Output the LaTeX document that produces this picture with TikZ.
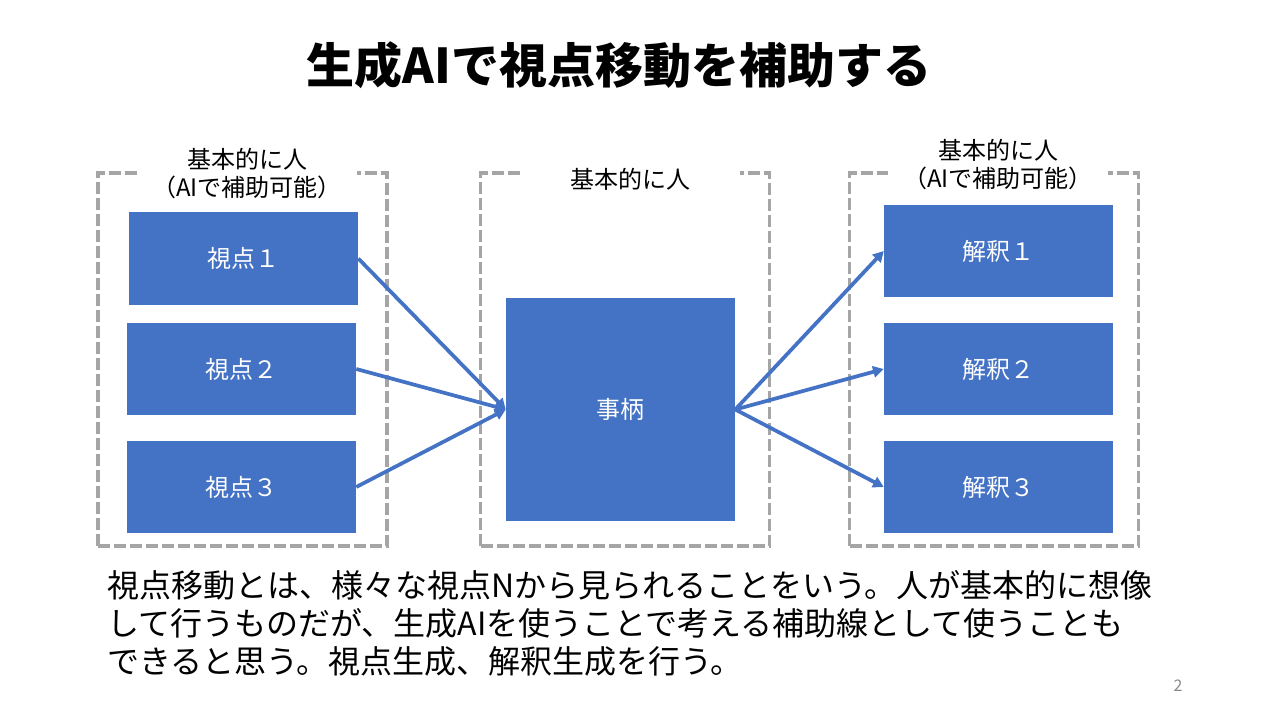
\documentclass[tikz,border=0pt]{standalone}
\usepackage{fontspec}
\setmainfont{Noto Sans CJK JP}
\usetikzlibrary{arrows.meta}
\definecolor{boxblue}{HTML}{4472C4}
\definecolor{dashgray}{HTML}{A5A5A5}
\definecolor{pagegray}{HTML}{898989}
\begin{document}
\begin{tikzpicture}[x=0.75pt,y=-0.75pt,
  bluebox/.style={fill=boxblue, draw=none, text=white, font=\fontsize{18}{22}\selectfont, minimum width=171.75pt, minimum height=69pt, inner sep=0pt},
  dashbox/.style={draw=dashgray, line width=2.8pt, dash pattern=on 9pt off 3pt, minimum width=216.75pt, minimum height=279.75pt, inner sep=0pt},
  grouplabel/.style={fill=white, font=\fontsize{18}{21}\selectfont, align=center, minimum width=165pt, inner sep=1pt},
  link/.style={draw=boxblue, line width=2.8pt, -{Triangle[length=8pt,width=8.5pt]}}
]
\useasboundingbox (0,0) rectangle (1280,720);

\node[font=\fontsize{36}{40}\selectfont\bfseries] (title) at (619,65) {生成AIで視点移動を補助する};

\node[dashbox] (d1) at (242.5,359.5) {};
\node[dashbox] (d2) at (625,359.5) {};
\node[dashbox] (d3) at (994,359.5) {};

\node[grouplabel] (l1) at (247,174) {基本的に人\\（AIで補助可能）};
\node[grouplabel] (l2) at (630,179) {基本的に人};
\node[grouplabel] (l3) at (998,165) {基本的に人\\（AIで補助可能）};

\node[bluebox] (v1) at (243.5,258.5) {視点１};
\node[bluebox] (v2) at (241.5,369) {視点２};
\node[bluebox] (v3) at (241.5,487) {視点３};
\node[bluebox, minimum height=167.25pt] (c) at (620.5,409.5) {事柄};
\node[bluebox] (r1) at (998.5,251) {解釈１};
\node[bluebox] (r2) at (998.5,369) {解釈２};
\node[bluebox] (r3) at (998.5,487) {解釈３};

\draw[link] (v1.east) -- (c.west);
\draw[link] (v2.east) -- (c.west);
\draw[link] (v3.east) -- (c.west);
\draw[link] (c.east) -- (r1.west);
\draw[link] (c.east) -- (r2.west);
\draw[link] (c.east) -- (r3.west);

\node[anchor=north west, inner sep=0pt, align=left, font=\fontsize{24}{28.5}\selectfont] (body) at (107,570)
{視点移動とは、様々な視点Nから見られることをいう。人が基本的に想像\\して行うものだが、生成AIを使うことで考える補助線として使うことも\\できると思う。視点生成、解釈生成を行う。};

\node[text=pagegray, font=\fontsize{12}{14}\selectfont] (page) at (1178,686) {2};
\end{tikzpicture}
\end{document}
